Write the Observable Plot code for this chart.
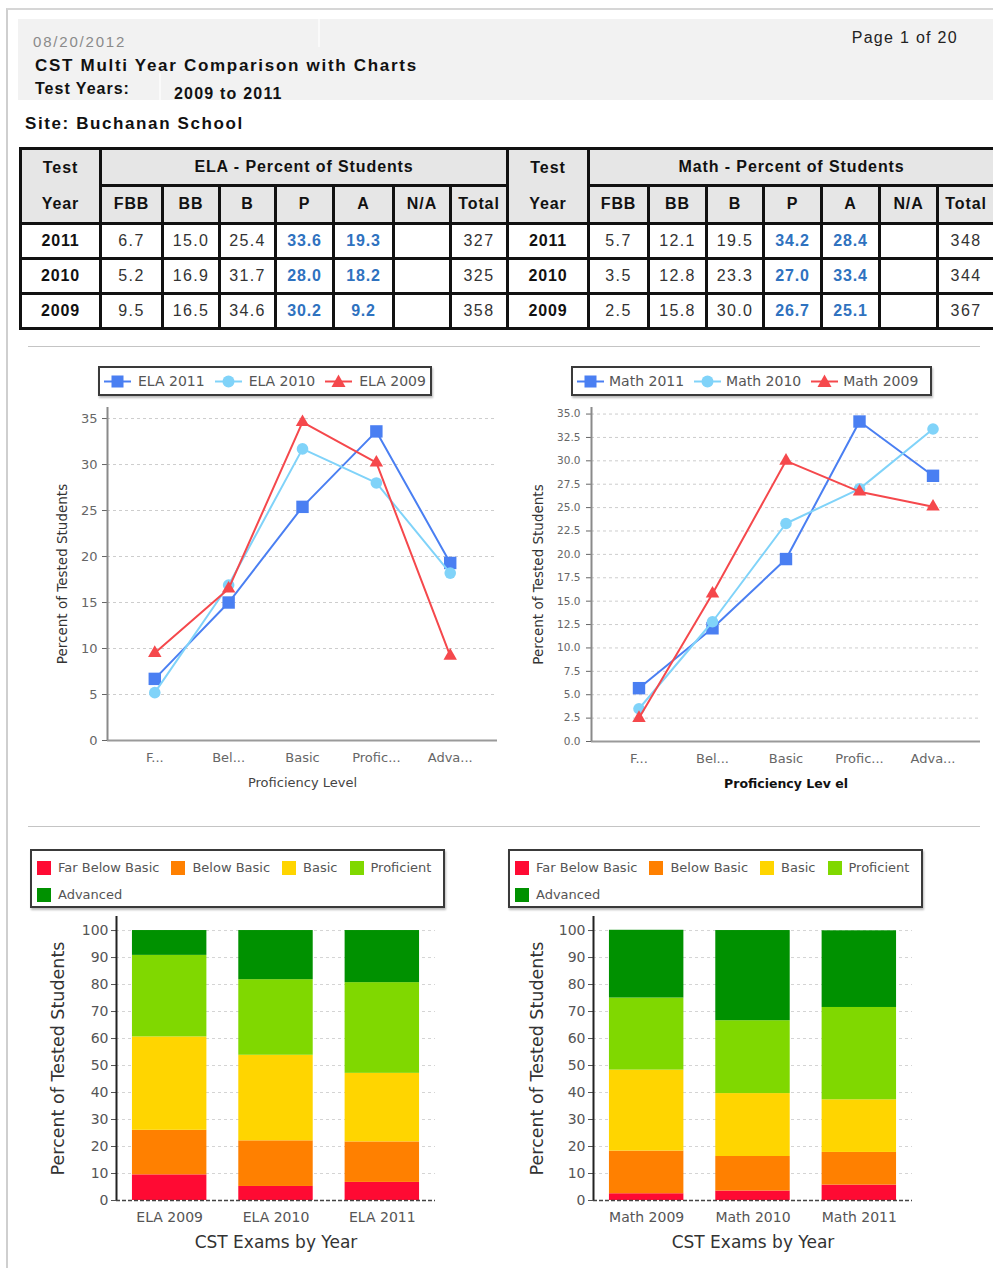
<!DOCTYPE html>
<html>
<head>
<meta charset="utf-8">
<script src="https://cdn.jsdelivr.net/npm/d3@7"></script>
<script src="https://cdn.jsdelivr.net/npm/@observablehq/plot@0.6"></script>
<style>
  html, body { margin: 0; padding: 0; background: #fff; }
  body { width: 993px; height: 1268px; overflow: hidden; position: relative; font-family: "Liberation Sans", Arial, sans-serif; color: #111; }
  .abs { position: absolute; white-space: nowrap; }
  table.cst { position: absolute; left: 19px; top: 147px; border-collapse: collapse; table-layout: fixed; width: 974px; }
  table.cst td { border: 3px solid #111; padding: 0; text-align: center; vertical-align: middle; font-size: 16px; letter-spacing: 1.4px; color: #333; overflow: hidden; white-space: nowrap; }
  table.cst td.h { background: #e6e6e6; font-weight: bold; color: #111; letter-spacing: 0.9px; }
  table.cst td.yr { font-weight: bold; color: #111; letter-spacing: 0.8px; }
  table.cst td.blue { color: #2f72bf; font-weight: bold; letter-spacing: 0.8px; }
  .legend { position: absolute; box-sizing: border-box; border: 2px solid #3a3a3a; background: #fff; box-shadow: 1px 2px 2px #bbb; font-family: "DejaVu Sans", sans-serif; color: #555; white-space: nowrap; overflow: hidden; }
  .legend .row { display: flex; align-items: center; flex-wrap: nowrap; }
  .legend .item { display: flex; align-items: center; flex: 0 0 auto; white-space: nowrap; }
  .chart { position: absolute; }
  .small-y g[aria-label^="y-axis"] { font-size: 10.5px; }
  .sep { position: absolute; left: 28px; width: 952px; height: 0; border-top: 1px solid #c4c4c4; }
</style>
</head>
<body>
<div class="abs" style="left:6px;top:8px;width:990px;height:1262px;border-left:2px solid #cfcfcf;border-top:2px solid #d6d6d6;"></div>
<div class="abs" style="left:18px;top:19px;width:975px;height:81px;background:#f2f2f2;"></div>
<div class="abs" style="left:318px;top:19px;width:2px;height:28px;background:#fafafa;"></div>
<div class="abs" style="left:159px;top:73px;width:2px;height:27px;background:#fafafa;"></div>
<div id="texts"></div>
<div id="table"></div>
<div class="sep" style="top:346px;"></div>
<div class="sep" style="top:826px;"></div>
<div id="charts"></div>

<script>
// ---------- data ----------
const reportDate = "08/20/2012";
const pageLabel = "Page 1 of 20";
const reportTitle = "CST Multi Year Comparison with Charts";
const testYearsLabel = "Test Years:";
const testYearsValue = "2009 to 2011";
const siteLabel = "Site: Buchanan School";

const levels = ["Far Below Basic", "Below Basic", "Basic", "Proficient", "Advanced"];
const levelCodes = ["FBB", "BB", "B", "P", "A"];
const levelTicks = ["F...", "Bel...", "Basic", "Profic...", "Adva..."];
const levelColors = ["#ff0a33", "#ff8000", "#ffd500", "#80d800", "#009100"];

const years = [2011, 2010, 2009];
const ela2011 = [6.7, 15.0, 25.4, 33.6, 19.3];
const ela2010 = [5.2, 16.9, 31.7, 28.0, 18.2];
const ela2009 = [9.5, 16.5, 34.6, 30.2, 9.2];
const math2011 = [5.7, 12.1, 19.5, 34.2, 28.4];
const math2010 = [3.5, 12.8, 23.3, 27.0, 33.4];
const math2009 = [2.5, 15.8, 30.0, 26.7, 25.1];
const elaTotals = [327, 325, 358];
const mathTotals = [348, 344, 367];

const elaNames = ["ELA 2011", "ELA 2010", "ELA 2009"];
const mathNames = ["Math 2011", "Math 2010", "Math 2009"];
const elaBarExams = ["ELA 2009", "ELA 2010", "ELA 2011"];
const mathBarExams = ["Math 2009", "Math 2010", "Math 2011"];

const seriesColors = ["#4a7ff2", "#80d3f9", "#f5484c"];
const seriesSymbols = ["square", "circle", "triangle"];
const seriesR = [7, 5.8, 5];

const elaTicks = [0, 5, 10, 15, 20, 25, 30, 35];
const mathTicks = [0, 2.5, 5, 7.5, 10, 12.5, 15, 17.5, 20, 22.5, 25, 27.5, 30, 32.5, 35];
const barTicks = [0, 10, 20, 30, 40, 50, 60, 70, 80, 90, 100];

// ---------- header texts ----------
function addText(parent, txt, css) {
  const d = document.createElement("div");
  d.className = "abs";
  d.textContent = txt;
  d.style.cssText += css;
  parent.appendChild(d);
  return d;
}
const T = document.getElementById("texts");
addText(T, reportDate, "left:33px;top:34px;font-size:15px;line-height:1;color:#8a8a8a;letter-spacing:1.8px;");
addText(T, pageLabel, "right:35px;top:30px;font-size:16px;line-height:1;color:#222;letter-spacing:1.3px;");
addText(T, reportTitle, "left:35px;top:57px;font-size:17px;line-height:1;font-weight:bold;letter-spacing:1.7px;");
addText(T, testYearsLabel, "left:35px;top:81px;font-size:16px;line-height:1;font-weight:bold;letter-spacing:1px;");
addText(T, testYearsValue, "left:174px;top:86px;font-size:16px;line-height:1;font-weight:bold;letter-spacing:1.2px;");
addText(T, siteLabel, "left:25px;top:115px;font-size:17px;line-height:1;font-weight:bold;letter-spacing:1.6px;");

// ---------- table ----------
(function buildTable() {
  const widths = [80, 62, 57, 56, 58, 60, 57, 57, 81, 60, 58, 57, 58, 58, 58, 57];
  const subjects = [
    {title: "ELA - Percent of Students", rows: [ela2011, ela2010, ela2009], totals: elaTotals},
    {title: "Math - Percent of Students", rows: [math2011, math2010, math2009], totals: mathTotals}
  ];
  let html = '<table class="cst"><colgroup>' + widths.map(w => `<col style="width:${w}px">`).join("") + "</colgroup>";
  html += '<tr style="height:36px">';
  subjects.forEach(s => {
    html += '<td class="h" rowspan="2" style="line-height:36px">Test<br>Year</td>';
    html += `<td class="h" colspan="7">${s.title}</td>`;
  });
  html += '</tr><tr style="height:37px">';
  subjects.forEach(() => {
    [...levelCodes, "N/A", "Total"].forEach(c => { html += `<td class="h">${c}</td>`; });
  });
  html += "</tr>";
  years.forEach((y, r) => {
    html += '<tr style="height:35px">';
    subjects.forEach(s => {
      html += `<td class="yr">${y}</td>`;
      s.rows[r].forEach((v, k) => {
        const cls = (k === 3 || k === 4) ? ' class="blue"' : "";
        html += `<td${cls}>${v.toFixed(1)}</td>`;
      });
      html += "<td></td>";
      html += `<td>${s.totals[r]}</td>`;
    });
    html += "</tr>";
  });
  html += "</table>";
  document.getElementById("table").innerHTML = html;
})();

// ---------- legends ----------
const C = document.getElementById("charts");
function swatchSvg(color, symbol) {
  let m;
  if (symbol === "square") m = `<rect x="7.5" y="3.5" width="12" height="12" fill="${color}"/>`;
  else if (symbol === "circle") m = `<circle cx="13.5" cy="9.5" r="6" fill="${color}"/>`;
  else m = `<path d="M13.5,2.5 L20.5,15 L6.5,15 Z" fill="${color}"/>`;
  return `<svg width="27" height="19" style="display:block;flex:0 0 auto"><line x1="0" y1="9.5" x2="27" y2="9.5" stroke="${color}" stroke-width="2"/>${m}</svg>`;
}
function lineLegend(names, left, width, gapIn) {
  const box = document.createElement("div");
  box.className = "legend";
  box.style.cssText += `left:${left}px;top:366px;width:${width}px;height:30px;display:flex;align-items:center;padding-left:4px;font-size:14px;`;
  names.forEach((n, k) => {
    const it = document.createElement("div");
    it.className = "item";
    it.style.marginRight = "10px";
    it.innerHTML = swatchSvg(seriesColors[k], seriesSymbols[k]) + `<span style="margin-left:${gapIn}px">${n}</span>`;
    box.appendChild(it);
  });
  C.appendChild(box);
}
function barLegend(left) {
  const box = document.createElement("div");
  box.className = "legend";
  box.style.cssText += `left:${left}px;top:849px;width:415px;height:59px;padding:3px 0 0 5px;font-size:13px;`;
  [levels.slice(0, 4), levels.slice(4)].forEach(group => {
    const row = document.createElement("div");
    row.className = "row";
    row.style.height = "27px";
    group.forEach(l => {
      const k = levels.indexOf(l);
      const it = document.createElement("div");
      it.className = "item";
      it.style.marginRight = "12px";
      it.innerHTML = `<span style="display:inline-block;width:14px;height:14px;background:${levelColors[k]}"></span><span style="margin-left:7px">${l}</span>`;
      row.appendChild(it);
    });
    box.appendChild(row);
  });
  C.appendChild(box);
}

// ---------- charts ----------
function place(svg, left, top, cls) {
  const w = document.createElement("div");
  w.className = "chart" + (cls ? " " + cls : "");
  w.style.left = left + "px";
  w.style.top = top + "px";
  w.appendChild(svg);
  C.appendChild(w);
}

function lineChart(o) {
  const rows = o.series.flatMap((vals, k) => vals.map((v, i) => ({series: o.names[k], i, value: v})));
  const marks = [
    Plot.ruleY(o.yTicks.filter(t => t > 0), {stroke: "#cdcdcd", strokeDasharray: "3,3"}),
    Plot.ruleY([0], {stroke: "#9a9a9a", strokeWidth: 2}),
    Plot.ruleX([o.xDomain[0]], {y1: 0, y2: o.yMax, stroke: "#8a8a8a", strokeWidth: 2})
  ];
  o.names.forEach((n, k) => {
    const sub = rows.filter(d => d.series === n);
    marks.push(Plot.line(sub, {x: "i", y: "value", stroke: seriesColors[k], strokeWidth: 2}));
    marks.push(Plot.dot(sub, {x: "i", y: "value", fill: seriesColors[k], symbol: seriesSymbols[k], r: seriesR[k]}));
  });
  marks.push(Plot.text([o.yLabel], {text: d => d, frameAnchor: "left", textAnchor: "middle", dx: o.yLabelDx, rotate: -90, fontSize: 13.5, fill: "#333"}));
  marks.push(Plot.text([o.xLabel], {text: d => d, frameAnchor: "bottom", textAnchor: "middle", dy: 46, fontSize: o.xLabelSize, fontWeight: o.xLabelWeight, fill: o.xLabelColor}));
  return Plot.plot({
    width: o.width, height: o.height,
    marginLeft: o.marginLeft, marginRight: o.marginRight, marginTop: o.marginTop, marginBottom: o.marginBottom,
    x: {domain: o.xDomain, ticks: [0, 1, 2, 3, 4], tickFormat: i => levelTicks[i], tickSize: 0, tickPadding: 12, label: null},
    y: {domain: [0, o.yMax], ticks: o.yTicks, tickFormat: o.yFmt, tickSize: 5, tickPadding: o.yPad, label: null},
    style: {fontFamily: "DejaVu Sans, sans-serif", fontSize: "13px", color: "#666", background: "transparent", overflow: "visible"},
    marks
  });
}

function barChart(o) {
  const rows = [];
  o.series.forEach((vals, j) => {
    let acc = 0;
    vals.forEach((v, k) => {
      rows.push({j, exam: o.exams[j], level: levels[k], y1: acc, y2: acc + v});
      acc += v;
    });
  });
  const marks = [
    Plot.ruleY(barTicks.filter(t => t > 0), {stroke: "#d4d4d4", strokeDasharray: "3,3"}),
    Plot.rect(rows, {x1: d => d.j - 0.35, x2: d => d.j + 0.35, y1: "y1", y2: "y2", fill: "level"}),
    Plot.ruleY([0], {stroke: "#444", strokeWidth: 1.5, strokeDasharray: "4,2"}),
    Plot.ruleX([o.xDomain[0]], {y1: 0, y2: o.yMax, stroke: "#222", strokeWidth: 2}),
    Plot.text([o.yLabel], {text: d => d, frameAnchor: "left", textAnchor: "middle", dx: o.yLabelDx, rotate: -90, fontSize: 17.5, fill: "#333"}),
    Plot.text([o.xLabel], {text: d => d, frameAnchor: "bottom", textAnchor: "middle", dy: 47, fontSize: 17, fill: "#333"})
  ];
  return Plot.plot({
    width: o.width, height: o.height,
    marginLeft: o.marginLeft, marginRight: o.marginRight, marginTop: o.marginTop, marginBottom: o.marginBottom,
    x: {domain: o.xDomain, ticks: [0, 1, 2], tickFormat: j => o.exams[j], tickSize: 0, tickPadding: 12, label: null},
    y: {domain: [0, o.yMax], ticks: barTicks, tickSize: 5, tickPadding: 3, label: null},
    color: {domain: levels, range: levelColors},
    style: {fontFamily: "DejaVu Sans, sans-serif", fontSize: "14px", color: "#555", background: "transparent", overflow: "visible"},
    marks
  });
}

lineLegend(elaNames, 98, 334, 7);
lineLegend(mathNames, 571, 361, 5);

place(lineChart({
  series: [ela2011, ela2010, ela2009], names: elaNames,
  width: 490, height: 420, marginLeft: 87, marginRight: 13, marginTop: 7, marginBottom: 80,
  xDomain: [-0.64, 4.64], yMax: 36.2, yTicks: elaTicks, yFmt: d3.format("d"), yPad: 5,
  yLabel: "Percent of Tested Students", yLabelDx: -45,
  xLabel: "Proficiency Level", xLabelColor: "#444", xLabelSize: 13, xLabelWeight: "normal"
}), 20, 400);

place(lineChart({
  series: [math2011, math2010, math2009], names: mathNames,
  width: 490, height: 420, marginLeft: 91, marginRight: 10, marginTop: 7, marginBottom: 79,
  xDomain: [-0.646, 4.646], yMax: 35.7, yTicks: mathTicks, yFmt: d3.format(".1f"), yPad: 6,
  yLabel: "Percent of Tested Students", yLabelDx: -53,
  xLabel: "Proficiency Lev el", xLabelColor: "#111", xLabelSize: 12.5, xLabelWeight: "bold"
}), 500, 400, "small-y");

barLegend(30);
barLegend(508);

place(barChart({
  series: [ela2009, ela2010, ela2011], exams: elaBarExams,
  width: 430, height: 350, marginLeft: 96, marginRight: 15, marginTop: 6, marginBottom: 60,
  xDomain: [-0.5, 2.5], yMax: 105.2,
  yLabel: "Percent of Tested Students", yLabelDx: -58, xLabel: "CST Exams by Year"
}), 20, 910);

place(barChart({
  series: [math2009, math2010, math2011], exams: mathBarExams,
  width: 430, height: 350, marginLeft: 95, marginRight: 16, marginTop: 6, marginBottom: 60,
  xDomain: [-0.5, 2.5], yMax: 105.2,
  yLabel: "Percent of Tested Students", yLabelDx: -56, xLabel: "CST Exams by Year"
}), 498, 910);
</script>
</body>
</html>
